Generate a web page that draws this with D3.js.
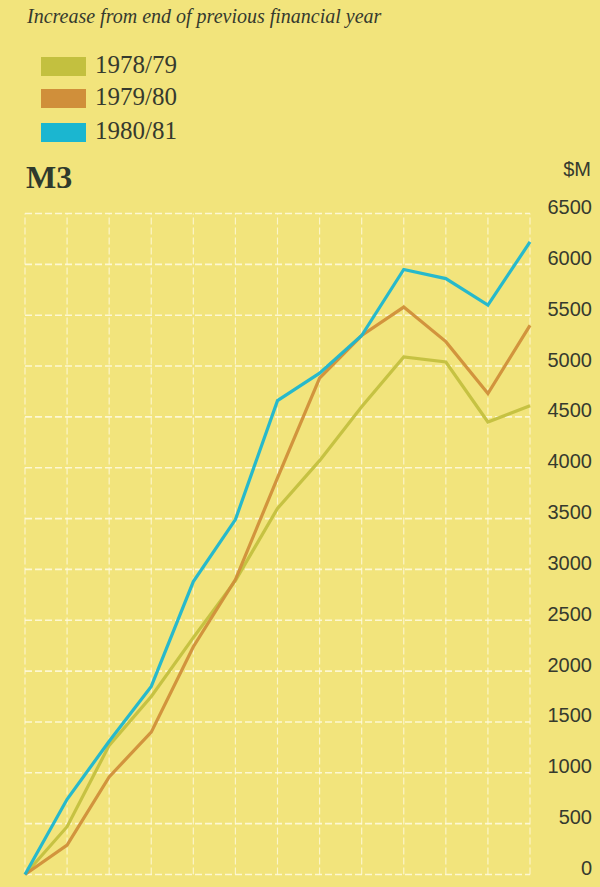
<!DOCTYPE html>
<html><head><meta charset="utf-8">
<script src="https://cdn.jsdelivr.net/npm/d3@7/dist/d3.min.js"></script>
<style>
html,body{margin:0;padding:0;background:#f2e47c;}
svg{display:block;}
</style></head>
<body>
<script>
const months = d3.range(0, 13); // start + 12 months
const series78 = [0, 470, 1270, 1750, 2330, 2890, 3600, 4070, 4600, 5090, 5040, 4450, 4610];
const series79 = [0, 290, 960, 1400, 2240, 2900, 3900, 4880, 5300, 5580, 5240, 4730, 5400];
const series80 = [0, 740, 1310, 1850, 2880, 3490, 4660, 4930, 5300, 5950, 5860, 5600, 6220];
const seriesNames = ["1978/79", "1979/80", "1980/81"];
const seriesColors = ["#c3c03f", "#d08f3a", "#1bb6d0"];
const yTicks = d3.range(0, 6501, 500);

const W = 600, H = 887;
const svg = d3.select("body").append("svg").attr("width", W).attr("height", H);
svg.append("rect").attr("width", W).attr("height", H).attr("fill", "#f2e47c");

const x = d3.scaleLinear().domain([0, 12]).range([25, 530]);
const y = d3.scaleLinear().domain([0, 6500]).range([874.5, 213.5]);

// grid
const grid = svg.append("g");
grid.selectAll("line.h").data(yTicks).join("line")
  .attr("x1", x(0)).attr("x2", x(12))
  .attr("y1", d => y(d)).attr("y2", d => y(d))
  .attr("stroke", "#fffbe0").attr("stroke-width", 1.6)
  .attr("stroke-dasharray", "7,3").attr("opacity", 0.85);
grid.selectAll("line.v").data(months).join("line")
  .attr("y1", y(0)).attr("y2", y(6500))
  .attr("x1", d => x(d)).attr("x2", d => x(d))
  .attr("stroke", "#fffbe0").attr("stroke-width", 1.2)
  .attr("stroke-dasharray", "7,3").attr("opacity", 0.75);

// right axis labels
const axis = d3.axisRight(y).tickValues(yTicks).tickSize(0).tickPadding(0).tickFormat(d3.format("d"));
const ag = svg.append("g").attr("transform", "translate(592,0)").call(axis);
ag.select(".domain").remove();
ag.selectAll("text")
  .attr("text-anchor", "end").attr("dy", 0).attr("x", 0)
  .attr("font-family", "Liberation Sans, Arial, sans-serif").attr("font-size", 20)
  .attr("fill", "#363a2e");

svg.append("text").attr("x", 591).attr("y", 176).attr("text-anchor", "end")
  .attr("font-family", "Liberation Sans, Arial, sans-serif").attr("font-size", 20)
  .attr("fill", "#363a2e").text("$M");

// lines
const line = d3.line().x((d, i) => x(months[i])).y(d => y(d));
const allSeries = [series78, series79, series80];
svg.append("g").selectAll("path").data(allSeries).join("path")
  .attr("d", d => line(d)).attr("fill", "none")
  .attr("stroke", (d, i) => seriesColors[i]).attr("stroke-width", 3.2)
  .attr("stroke-linejoin", "miter").attr("opacity", 0.95);

// title
svg.append("text").attr("x", 27).attr("y", 23)
  .attr("font-family", "Liberation Serif, serif").attr("font-style", "italic")
  .attr("font-size", 20).attr("fill", "#363a2e")
  .text("Increase from end of previous financial year");

// legend
const lg = svg.append("g");
const legY = [57, 89, 123];
seriesNames.forEach((n, i) => {
  lg.append("rect").attr("x", 41).attr("y", legY[i]).attr("width", 45).attr("height", 19)
    .attr("fill", seriesColors[i]);
  lg.append("text").attr("x", 95).attr("y", legY[i] + 16)
    .attr("font-family", "Liberation Serif, serif").attr("font-size", 25)
    .attr("fill", "#363a2e").text(n);
});

svg.append("text").attr("x", 26).attr("y", 188)
  .attr("font-family", "Liberation Serif, serif").attr("font-weight", "bold")
  .attr("font-size", 32).attr("fill", "#2f3a2c").text("M3");
</script>
</body></html>
